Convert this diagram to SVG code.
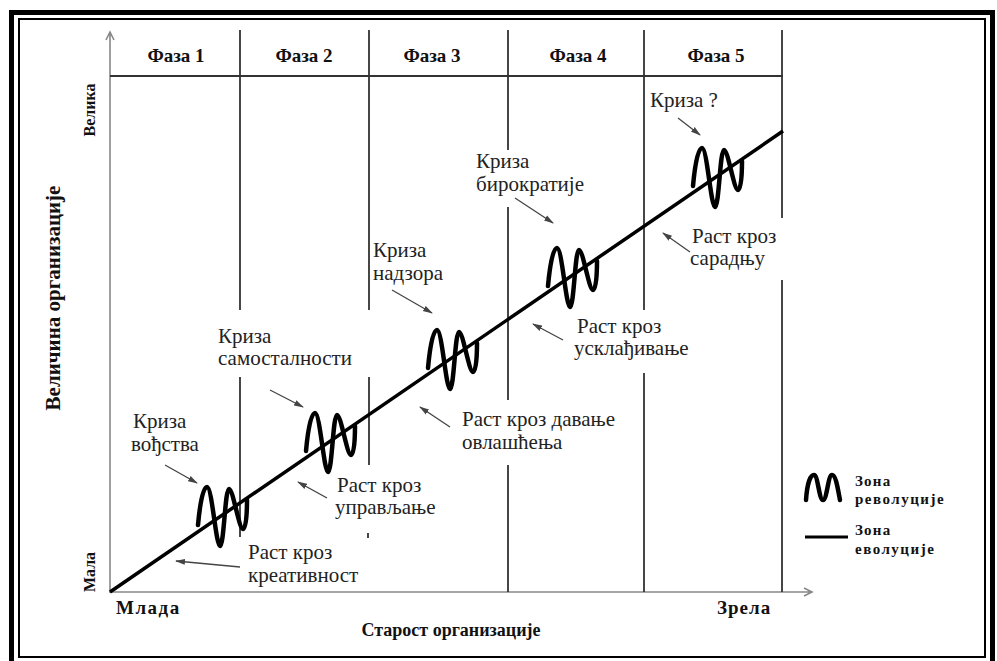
<svg xmlns="http://www.w3.org/2000/svg" width="997" height="661" viewBox="0 0 997 661">
<style>
.t{font-family:"Liberation Serif","DejaVu Serif",serif;font-size:21px;fill:#222}
.b{font-family:"Liberation Serif","DejaVu Serif",serif;font-weight:bold;fill:#111}
.ph{stroke:#333;stroke-width:1.8;fill:none}
.ax{stroke:#888;stroke-width:1.6;fill:none}
.ar{stroke:#444;stroke-width:1.3;fill:none;marker-end:url(#ah)}
.wv{stroke:#000;stroke-width:4.5;fill:none;stroke-linecap:round;stroke-linejoin:round}
</style>
<defs>
<marker id="ah" markerUnits="userSpaceOnUse" markerWidth="10" markerHeight="7" refX="9" refY="3.5" orient="auto">
<path d="M0,0.5 L10,3.5 L0,6.5 z" fill="#444"/>
</marker>
<path id="wave" d="M -24,10 C -22,-12 -19,-28 -15,-28 C -10,-28 -6,31 -2,31 C 2,31 3,-26 7,-26 C 11,-26 17,14 21,14 C 24,14 25,0 25,-15"/>
</defs>
<rect width="997" height="661" fill="#fff"/>
<g id="frame">
<rect x="11.5" y="12.5" width="981" height="660" fill="none" stroke="#000" stroke-width="5"/>
<rect x="19" y="19" width="966" height="638" fill="none" stroke="#000" stroke-width="2"/>
</g>
<g id="axes">
<path class="ax" d="M110,593 V32 M106,40 L110,32 L114,40"/>
<path class="ax" d="M110,592 H812 M804,588 L812,592 L804,596"/>
<path class="ph" d="M110,76 H783"/>
<path class="ph" d="M240,30 V310 M240,377 V537"/>
<path class="ph" d="M369,30 V310 M369,377 V465 M368,533 V538"/>
<path class="ph" d="M508,30 V150 M508,207 V400 M508,465 V592"/>
<path class="ph" d="M644,30 V310 M644,373 V592"/>
<path class="ph" d="M782,30 V218 M782,280 V592"/>
</g>
<g id="header">
<text class="b" font-size="19" x="176" y="62" text-anchor="middle">Фаза 1</text>
<text class="b" font-size="19" x="304" y="62" text-anchor="middle">Фаза 2</text>
<text class="b" font-size="19" x="432" y="62" text-anchor="middle">Фаза 3</text>
<text class="b" font-size="19" x="578" y="62" text-anchor="middle">Фаза 4</text>
<text class="b" font-size="19" x="716" y="62" text-anchor="middle">Фаза 5</text>
</g>
<g id="axis-labels">
<text class="b" font-size="16" transform="translate(95,110) rotate(-90)" text-anchor="middle">Велика</text>
<text class="b" font-size="16" transform="translate(95,572) rotate(-90)" text-anchor="middle">Мала</text>
<text class="b" font-size="21" transform="translate(60,298) rotate(-90)" text-anchor="middle">Величина организације</text>
<text class="b" font-size="19" letter-spacing="1.5" x="116" y="614">Млада</text>
<text class="b" font-size="19" letter-spacing="1" x="717" y="614">Зрела</text>
<text class="b" font-size="18" x="451" y="636" text-anchor="middle">Старост организације</text>
</g>
<g id="growth-line">
<path d="M110,592 L783,131" stroke="#000" stroke-width="3.5" fill="none"/>
</g>
<g id="revolutions">
<use href="#wave" class="wv" transform="translate(222,515)"/>
<use href="#wave" class="wv" transform="translate(330,441)"/>
<use href="#wave" class="wv" transform="translate(452,358)"/>
<use href="#wave" class="wv" transform="translate(572,276)"/>
<use href="#wave" class="wv" transform="translate(717,176)"/>
</g>
<g id="connectors">
<path class="ar" d="M165,465 L197,483"/>
<path class="ar" d="M240,567 L176,561"/>
<path class="ar" d="M270,390 L303,407"/>
<path class="ar" d="M327,498 L298,482"/>
<path class="ar" d="M392,290 L432,313"/>
<path class="ar" d="M450,427 L420,407"/>
<path class="ar" d="M515,198 L553,223"/>
<path class="ar" d="M563,340 L533,324"/>
<path class="ar" d="M678,118 L700,135"/>
<path class="ar" d="M690,252 L663,233"/>
</g>
<g id="label-crisis1"><text class="t" x="133" y="428">Криза</text><text class="t" x="131" y="451">вођства</text></g>
<g id="label-growth1"><text class="t" x="248" y="559">Раст кроз</text><text class="t" x="248" y="582">креативност</text></g>
<g id="label-crisis2"><text class="t" x="218" y="343">Криза</text><text class="t" x="218" y="365">самосталности</text></g>
<g id="label-growth2"><text class="t" x="337" y="492">Раст кроз</text><text class="t" x="335" y="514">управљање</text></g>
<g id="label-crisis3"><text class="t" x="373" y="257">Криза</text><text class="t" x="373" y="280">надзора</text></g>
<g id="label-growth3"><text class="t" x="462" y="426">Раст кроз давање</text><text class="t" x="462" y="449">овлашћења</text></g>
<g id="label-crisis4"><text class="t" x="476" y="168">Криза</text><text class="t" x="476" y="191">бирократије</text></g>
<g id="label-growth4"><text class="t" x="577" y="333">Раст кроз</text><text class="t" x="574" y="355">усклађивање</text></g>
<g id="label-crisis5"><text class="t" x="650" y="107">Криза ?</text></g>
<g id="label-growth5"><text class="t" x="692" y="243">Раст кроз</text><text class="t" x="690" y="265">сарадњу</text></g>
<g id="legend">
<path class="wv" stroke-width="5" d="M806,500 C807,485 810,475 814,475 C818,475 819,500 823,500 C827,500 828,475 832,475 C836,475 838,490 840,500"/>
<text class="b" font-size="15" letter-spacing="1.2" x="855" y="486">Зона</text>
<text class="b" font-size="15" letter-spacing="1.5" x="855" y="504">револуције</text>
<path d="M805,537 H848" stroke="#000" stroke-width="3"/>
<text class="b" font-size="15" letter-spacing="1.2" x="855" y="535">Зона</text>
<text class="b" font-size="15" letter-spacing="1.5" x="855" y="554">еволуције</text>
</g>
</svg>
